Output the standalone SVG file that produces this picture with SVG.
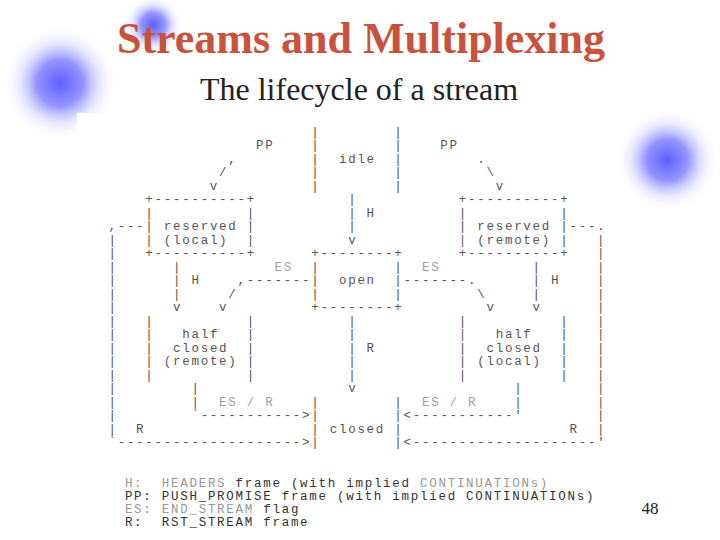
<svg xmlns="http://www.w3.org/2000/svg" width="720" height="540" viewBox="0 0 720 540">
<defs>
<radialGradient id="blob">
<stop offset="0" stop-color="#5656ff" stop-opacity="0.95"/>
<stop offset="0.4" stop-color="#7070ff" stop-opacity="0.75"/>
<stop offset="0.7" stop-color="#b4b4ff" stop-opacity="0.3"/>
<stop offset="1" stop-color="#ffffff" stop-opacity="0"/>
</radialGradient>
<style>
text.a{font-family:"Liberation Mono","DejaVu Sans Mono",monospace;font-size:12.5px;letter-spacing:1.72px;fill:#555;white-space:pre}
text.f{fill:#a0a0a0}
text.l{font-family:"Liberation Mono","DejaVu Sans Mono",monospace;font-size:12.5px;letter-spacing:1.72px;fill:#333;white-space:pre}
tspan.f{fill:#999}
</style>
</defs>
<rect width="720" height="540" fill="#fff"/>
<g id="background">
<circle cx="153" cy="25" r="30" fill="url(#blob)"/>
<circle cx="60" cy="83" r="58" fill="url(#blob)"/>
<circle cx="667" cy="160" r="52" fill="url(#blob)"/>
<rect x="77" y="113" width="543" height="425" fill="#fff"/>
</g>
<g id="titles">
<text x="361" y="53" text-anchor="middle" font-family="Liberation Serif, serif" font-weight="bold" font-size="44" fill="#c8523c">Streams and Multiplexing</text>
<text x="359" y="100" text-anchor="middle" font-family="Liberation Serif, serif" font-size="32" fill="#222">The lifecycle of a stream</text>
<text x="650" y="514" text-anchor="middle" font-family="Liberation Serif, serif" font-size="17" fill="#222">48</text>
</g>
<g transform="translate(0.9 0)">
<g id="idle" xml:space="preserve">
<text class="a" x="310.4" y="135.5">|        |</text>
<text class="a" x="310.4" y="149">|        |</text>
<text class="a" x="310.4" y="162.5">|  idle  |</text>
<text class="a" x="310.4" y="176">|        |</text>
<text class="a" x="310.4" y="189.5">|        |</text>
</g>
<g id="reserved-local" xml:space="preserve">
<text class="a" x="144.44" y="203">+----------+</text>
<text class="a" x="144.44" y="216.5">|          |</text>
<text class="a" x="144.44" y="230">| reserved |</text>
<text class="a" x="144.44" y="243.5">| (local)  |</text>
<text class="a" x="144.44" y="257">+----------+</text>
</g>
<g id="reserved-remote" xml:space="preserve">
<text class="a" x="457.92" y="203">+----------+</text>
<text class="a" x="457.92" y="216.5">|          |</text>
<text class="a" x="457.92" y="230">| reserved |</text>
<text class="a" x="457.92" y="243.5">| (remote) |</text>
<text class="a" x="457.92" y="257">+----------+</text>
</g>
<g id="open" xml:space="preserve">
<text class="a" x="310.4" y="257">+--------+</text>
<text class="a" x="310.4" y="270.5">|        |</text>
<text class="a" x="310.4" y="284">|  open  |</text>
<text class="a" x="310.4" y="297.5">|        |</text>
<text class="a" x="310.4" y="311">+--------+</text>
</g>
<g id="half-closed-remote" xml:space="preserve">
<text class="a" x="144.44" y="324.5">|          |</text>
<text class="a" x="144.44" y="338">|   half   |</text>
<text class="a" x="144.44" y="351.5">|  closed  |</text>
<text class="a" x="144.44" y="365">| (remote) |</text>
<text class="a" x="144.44" y="378.5">|          |</text>
</g>
<g id="half-closed-local" xml:space="preserve">
<text class="a" x="457.92" y="324.5">|          |</text>
<text class="a" x="457.92" y="338">|   half   |</text>
<text class="a" x="457.92" y="351.5">|  closed  |</text>
<text class="a" x="457.92" y="365">| (local)  |</text>
<text class="a" x="457.92" y="378.5">|          |</text>
</g>
<g id="closed" xml:space="preserve">
<text class="a" x="310.4" y="405.5">|        |</text>
<text class="a" x="310.4" y="419">|        |</text>
<text class="a" x="310.4" y="432.5">| closed |</text>
<text class="a" x="310.4" y="446">|        |</text>
</g>
<g id="connectors" xml:space="preserve">
<text class="a" x="255.08" y="149">PP</text>
<text class="a" x="439.48" y="149">PP</text>
<text class="a" x="227.42" y="162.5">,</text>
<text class="a" x="476.36" y="162.5">.</text>
<text class="a" x="218.2" y="176">/</text>
<text class="a" x="485.58" y="176">\</text>
<text class="a" x="208.98" y="189.5">v</text>
<text class="a" x="494.8" y="189.5">v</text>
<text class="a" x="347.28" y="203">|</text>
<text class="a" x="347.28" y="216.5">| H</text>
<text class="a" x="347.28" y="230">|</text>
<text class="a" x="347.28" y="243.5">v</text>
<text class="a" x="107.56" y="230">,---</text>
<text class="a" x="568.56" y="230">---.</text>
<text class="a" x="107.56" y="243.5">|</text>
<text class="a" x="107.56" y="257">|</text>
<text class="a" x="107.56" y="270.5">|</text>
<text class="a" x="107.56" y="284">|</text>
<text class="a" x="107.56" y="297.5">|</text>
<text class="a" x="107.56" y="311">|</text>
<text class="a" x="107.56" y="324.5">|</text>
<text class="a" x="107.56" y="338">|</text>
<text class="a" x="107.56" y="351.5">|</text>
<text class="a" x="107.56" y="365">|</text>
<text class="a" x="107.56" y="378.5">|</text>
<text class="a" x="107.56" y="392">|</text>
<text class="a" x="107.56" y="405.5">|</text>
<text class="a" x="107.56" y="419">|</text>
<text class="a" x="107.56" y="432.5">|  R</text>
<text class="a" x="107.56" y="446">`--------------------&gt;</text>
<text class="a" x="596.22" y="243.5">|</text>
<text class="a" x="596.22" y="257">|</text>
<text class="a" x="596.22" y="270.5">|</text>
<text class="a" x="596.22" y="284">|</text>
<text class="a" x="596.22" y="297.5">|</text>
<text class="a" x="596.22" y="311">|</text>
<text class="a" x="596.22" y="324.5">|</text>
<text class="a" x="596.22" y="338">|</text>
<text class="a" x="596.22" y="351.5">|</text>
<text class="a" x="596.22" y="365">|</text>
<text class="a" x="596.22" y="378.5">|</text>
<text class="a" x="596.22" y="392">|</text>
<text class="a" x="596.22" y="405.5">|</text>
<text class="a" x="596.22" y="419">|</text>
<text class="a" x="568.56" y="432.5">R  |</text>
<text class="a" x="402.6" y="446">&lt;--------------------'</text>
<text class="a" x="172.1" y="270.5">|</text>
<text class="a" x="172.1" y="284">| H</text>
<text class="a" x="172.1" y="297.5">|</text>
<text class="a" x="172.1" y="311">v</text>
<text class="a" x="531.68" y="270.5">|</text>
<text class="a" x="531.68" y="284">| H</text>
<text class="a" x="531.68" y="297.5">|</text>
<text class="a" x="531.68" y="311">v</text>
<text class="a f" x="273.52" y="270.5">ES</text>
<text class="a" x="236.64" y="284">,-------</text>
<text class="a" x="227.42" y="297.5">/</text>
<text class="a" x="218.2" y="311">v</text>
<text class="a f" x="421.04" y="270.5">ES</text>
<text class="a" x="402.6" y="284">-------.</text>
<text class="a" x="476.36" y="297.5">\</text>
<text class="a" x="485.58" y="311">v</text>
<text class="a" x="347.28" y="324.5">|</text>
<text class="a" x="347.28" y="338">|</text>
<text class="a" x="347.28" y="351.5">| R</text>
<text class="a" x="347.28" y="365">|</text>
<text class="a" x="347.28" y="378.5">|</text>
<text class="a" x="347.28" y="392">v</text>
<text class="a" x="190.54" y="392">|</text>
<text class="a" x="190.54" y="405.5">|</text>
<text class="a f" x="218.2" y="405.5">ES / R</text>
<text class="a" x="190.54" y="419">`-----------&gt;</text>
<text class="a" x="513.24" y="392">|</text>
<text class="a" x="513.24" y="405.5">|</text>
<text class="a f" x="421.04" y="405.5">ES / R</text>
<text class="a" x="402.6" y="419">&lt;-----------'</text>
</g>
<g id="legend" xml:space="preserve">
<text class="l" x="124" y="487"><tspan class="f">H:  HEADERS</tspan> frame (with implied <tspan class="f">CONTINUATIONs)</tspan></text>
<text class="l" x="124" y="500">PP: PUSH_PROMISE frame (with implied CONTINUATIONs)</text>
<text class="l" x="124" y="513"><tspan class="f">ES: END_STREAM</tspan> flag</text>
<text class="l" x="124" y="526">R:  RST_STREAM frame</text>
</g>
</g>
</svg>
